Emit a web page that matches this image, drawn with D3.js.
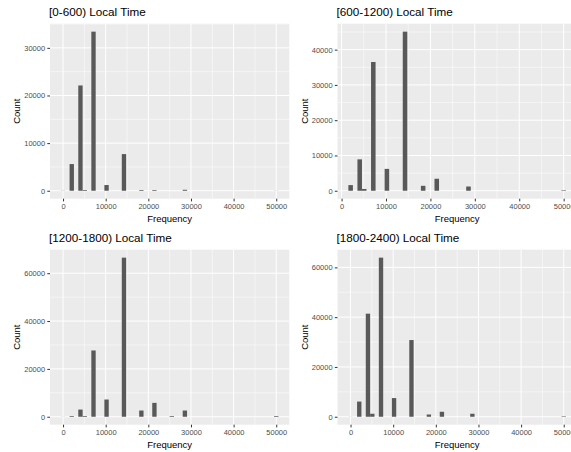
<!DOCTYPE html>
<html lang="en">
<head>
<meta charset="UTF-8">
<script src="https://cdn.jsdelivr.net/npm/d3@7"></script>
<title>Frequency by local time</title>
<style>
    body { margin: 0; background: #fff; }
    svg text { font-family: "Liberation Sans", Arial, sans-serif; }
    .tick text { fill: #4d4d4d; font-size: 7.5px; }
    .tick line { stroke: #333; }
</style>
</head>
<body>
<script>
    // histogram bins (50 bins over 0..50000), bin centres
    const binWidth = 50000 / 49;
    const binCenters = [0, 2041, 4082, 5102, 7143, 10204, 14286, 18367, 21429, 25510, 28571, 50000];

    // counts per bin
    const counts0to600    = [30, 5600, 22100, 150, 33400, 1200, 7700, 150, 150, 0, 200, 20];
    const counts600to1200 = [0, 1600, 8900, 500, 36500, 6200, 45100, 1400, 3400, 0, 1200, 150];
    const counts1200to1800 = [30, 300, 3000, 300, 27700, 7200, 66500, 2600, 5800, 300, 2600, 300];
    const counts1800to2400 = [30, 6100, 41400, 1200, 63900, 7500, 30800, 900, 2000, 0, 1200, 200];

    const titles = ["[0-600) Local Time", "[600-1200) Local Time", "[1200-1800) Local Time", "[1800-2400) Local Time"];

    const xTicks = [0, 10000, 20000, 30000, 40000, 50000];
    const yTicks0to600 = [0, 10000, 20000, 30000];
    const yTicks600to1200 = [0, 10000, 20000, 30000, 40000];
    const yTicks1200to1800 = [0, 20000, 40000, 60000];
    const yTicks1800to2400 = [0, 20000, 40000, 60000];

    const width = 571, height = 452;
    const svg = d3.select("body").append("svg")
        .attr("width", width)
        .attr("height", height);

    const panels = [
        { title: titles[0], counts: counts0to600, yTicks: yTicks0to600, left: 50, top: 23.7 },
        { title: titles[1], counts: counts600to1200, yTicks: yTicks600to1200, left: 337.5, top: 23.7 },
        { title: titles[2], counts: counts1200to1800, yTicks: yTicks1200to1800, left: 50, top: 249.7 },
        { title: titles[3], counts: counts1800to2400, yTicks: yTicks1800to2400, left: 337.5, top: 249.7 }
    ];
    const pw = 239.3, ph = 175;

    // minor breaks like ggplot: midpoints between majors, extended one step each side
    function minorBreaks(ticks, domain) {
        const step = ticks[1] - ticks[0];
        const out = [];
        for (let v = ticks[0] - step / 2; v <= ticks[ticks.length - 1] + step; v += step) {
            if (v >= domain[0] && v <= domain[1]) out.push(v);
        }
        return out;
    }

    panels.forEach(p => {
        const bins = binCenters.map((c, i) => ({ x0: c - binWidth / 2, x1: c + binWidth / 2, n: p.counts[i] }));
        const used = bins.filter(b => b.n > 0);
        const lo = d3.min(used, b => b.x0), hi = d3.max(used, b => b.x1);
        const xpad = (hi - lo) * 0.05;
        const x = d3.scaleLinear().domain([lo - xpad, hi + xpad]).range([0, pw]);
        const ymax = d3.max(bins, b => b.n);
        const y = d3.scaleLinear().domain([-ymax * 0.05, ymax * 1.05]).range([ph, 0]);

        const g = svg.append("g").attr("transform", `translate(${p.left},${p.top})`);

        g.append("rect").attr("width", pw).attr("height", ph).attr("fill", "#ebebeb");

        const xMinor = minorBreaks(xTicks, x.domain());
        const yMinor = minorBreaks(p.yTicks, y.domain());
        g.selectAll(".xminor").data(xMinor).enter().append("line")
            .attr("x1", d => x(d)).attr("x2", d => x(d)).attr("y1", 0).attr("y2", ph)
            .attr("stroke", "#fff").attr("stroke-width", 0.5);
        g.selectAll(".yminor").data(yMinor).enter().append("line")
            .attr("y1", d => y(d)).attr("y2", d => y(d)).attr("x1", 0).attr("x2", pw)
            .attr("stroke", "#fff").attr("stroke-width", 0.5);
        g.selectAll(".xmajor").data(xTicks).enter().append("line")
            .attr("x1", d => x(d)).attr("x2", d => x(d)).attr("y1", 0).attr("y2", ph)
            .attr("stroke", "#fff").attr("stroke-width", 1);
        g.selectAll(".ymajor").data(p.yTicks).enter().append("line")
            .attr("y1", d => y(d)).attr("y2", d => y(d)).attr("x1", 0).attr("x2", pw)
            .attr("stroke", "#fff").attr("stroke-width", 1);

        g.selectAll(".bar").data(bins.filter(b => b.n > 0)).enter().append("rect")
            .attr("x", d => x(d.x0))
            .attr("width", d => x(d.x1) - x(d.x0))
            .attr("y", d => y(d.n))
            .attr("height", d => y(0) - y(d.n))
            .attr("fill", "#595959");

        const xAxis = g.append("g").attr("transform", `translate(0,${ph})`)
            .call(d3.axisBottom(x).tickValues(xTicks).tickSize(2.7).tickPadding(2.6).tickFormat(d3.format("d")));
        xAxis.select(".domain").remove();

        const yAxis = g.append("g")
            .call(d3.axisLeft(y).tickValues(p.yTicks).tickSize(2.7).tickPadding(2.2).tickFormat(d3.format("d")));
        yAxis.select(".domain").remove();

        g.append("text")
            .attr("x", -1).attr("y", -8)
            .attr("font-size", 11.7)
            .attr("fill", "#000")
            .text(p.title);

        g.append("text")
            .attr("x", pw / 2).attr("y", ph + 23)
            .attr("text-anchor", "middle")
            .attr("font-size", 9.5)
            .attr("fill", "#000")
            .text("Frequency");

        g.append("text")
            .attr("transform", `translate(-30,${ph / 2}) rotate(-90)`)
            .attr("text-anchor", "middle")
            .attr("font-size", 9.5)
            .attr("fill", "#000")
            .text("Count");
    });
</script>
</body>
</html>
